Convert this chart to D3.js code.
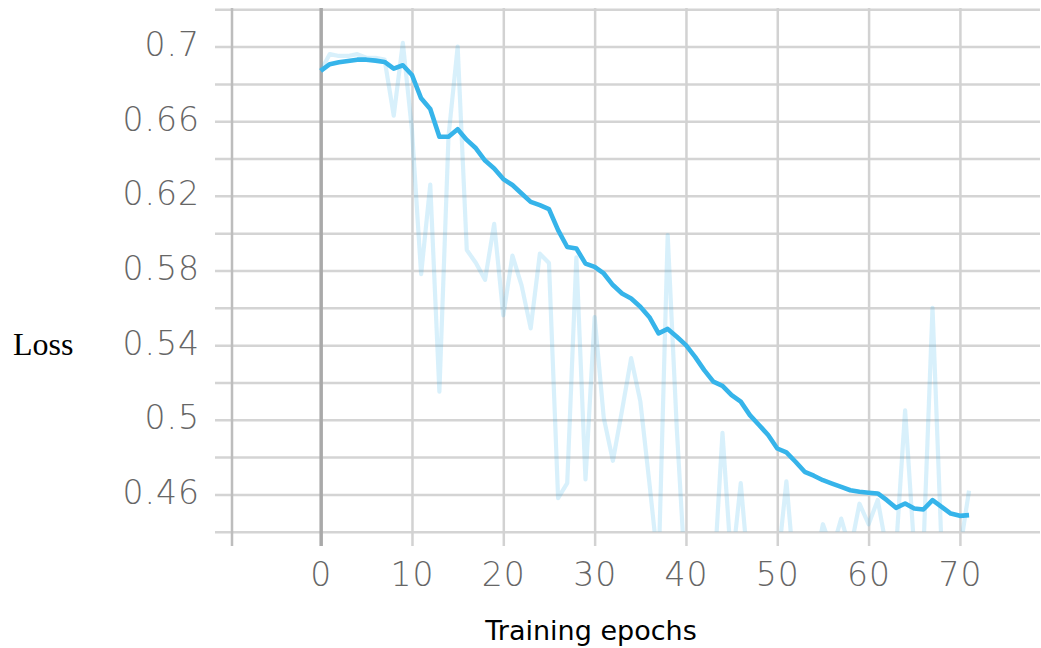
<!DOCTYPE html>
<html>
<head>
<meta charset="utf-8">
<script src="https://cdn.jsdelivr.net/npm/d3@7/dist/d3.min.js"></script>
<style>
  html, body { margin: 0; padding: 0; background: #ffffff; }
  svg { display: block; }
</style>
</head>
<body>
<svg id="chart" width="1041" height="648"></svg>
<script>
// ---- data ----
const epochs = d3.range(0, 72);
// raw (unsmoothed) loss; values below 0.44 fall outside the plot and are clipped
const rawLoss = [
  0.687, 0.696, 0.695, 0.695, 0.696, 0.694, 0.694, 0.693, 0.663, 0.702,
  0.655, 0.578, 0.626, 0.515, 0.652, 0.700, 0.591, 0.584, 0.575, 0.605,
  0.556, 0.588, 0.572, 0.549, 0.589, 0.584, 0.458, 0.466, 0.587, 0.468,
  0.555, 0.501, 0.478, 0.505, 0.533, 0.510, 0.466, 0.420, 0.599, 0.495,
  0.410, 0.400, 0.420, 0.410, 0.493, 0.420, 0.466, 0.410, 0.400, 0.410,
  0.420, 0.467, 0.410, 0.420, 0.420, 0.444, 0.430, 0.447, 0.430, 0.455,
  0.444, 0.457, 0.430, 0.430, 0.505, 0.430, 0.430, 0.560, 0.430, 0.430,
  0.430, 0.462
];
// smoothed loss
const smoothLoss = [
  0.687, 0.6906, 0.6916, 0.6923, 0.6930, 0.6930, 0.6925, 0.6918, 0.6882, 0.6900,
  0.6848, 0.6723, 0.6666, 0.6517, 0.6517, 0.6557, 0.6500, 0.6455, 0.6389, 0.6347,
  0.6290, 0.6258, 0.6213, 0.6168, 0.6150, 0.6129, 0.6016, 0.5926, 0.5918, 0.5837,
  0.5819, 0.5784, 0.5722, 0.5677, 0.5650, 0.5606, 0.5550, 0.5463, 0.5487, 0.5445,
  0.5400, 0.5337, 0.5266, 0.5204, 0.5182, 0.5132, 0.5097, 0.5025, 0.4972, 0.4918,
  0.4846, 0.4825, 0.4775, 0.4721, 0.4700, 0.4676, 0.4658, 0.4640, 0.4622, 0.4614,
  0.4609, 0.4605, 0.4569, 0.4528, 0.4551, 0.4524, 0.4519, 0.4569, 0.4533, 0.4497,
  0.4485, 0.4489
];
const xTicks = [0, 10, 20, 30, 40, 50, 60, 70];
const yLabelTicks = [0.46, 0.50, 0.54, 0.58, 0.62, 0.66, 0.70];
const yLabelText = ["0.46", "0.5", "0.54", "0.58", "0.62", "0.66", "0.7"];
const yGridTicks = [0.44, 0.46, 0.48, 0.50, 0.52, 0.54, 0.56, 0.58, 0.60, 0.62, 0.64, 0.66, 0.68, 0.70, 0.72];
const xTitle = "Training epochs";
const yTitle = "Loss";

// ---- layout ----
const svg = d3.select("#chart");
const pLeft = 232, pRight = 1040, pTop = 9.3, pBottom = 531.7;
const x = d3.scaleLinear().domain([-9.71, 78.77]).range([pLeft, pRight]);
const y = d3.scaleLinear().domain([0.44, 0.72]).range([pBottom, pTop]);

const tickFont = "'DejaVu Sans', sans-serif";

// horizontal grid (extends left past axis as tick marks)
const gy = svg.append("g")
  .attr("transform", `translate(${pRight},0)`)
  .call(d3.axisLeft(y).tickValues(yGridTicks).tickSize(pRight - 215).tickFormat(""));
gy.select(".domain").remove();
gy.selectAll(".tick line").attr("stroke", "#d4d4d4").attr("stroke-width", 2.5);

// vertical grid (extends below plot as tick marks)
const gx = svg.append("g")
  .attr("transform", `translate(0,546)`)
  .call(d3.axisTop(x).tickValues(xTicks).tickSize(546 - 8).tickFormat(""));
gx.select(".domain").remove();
gx.selectAll(".tick line")
  .attr("stroke", d => d === 0 ? "#a9a9a9" : "#d2d2d2")
  .attr("stroke-width", d => d === 0 ? 3.5 : 2.5);

// left axis line
svg.append("line")
  .attr("x1", pLeft).attr("x2", pLeft).attr("y1", 8).attr("y2", 546)
  .attr("stroke", "#bdbdbd").attr("stroke-width", 2.5);

// y tick labels
const ay = svg.append("g")
  .attr("transform", `translate(${pLeft},0)`)
  .call(d3.axisLeft(y).tickValues(yLabelTicks).tickSize(0).tickPadding(32)
    .tickFormat((d, i) => yLabelText[i]));
ay.select(".domain").remove();
ay.selectAll("text")
  .attr("font-family", tickFont).attr("font-size", 33).attr("font-weight", 300)
  .attr("fill", "#666666")
  .attr("dy", "0.27em").style("letter-spacing", "1px");

// x tick labels
const ax = svg.append("g")
  .attr("transform", `translate(0,${pBottom})`)
  .call(d3.axisBottom(x).tickValues(xTicks).tickSize(0).tickPadding(31));
ax.select(".domain").remove();
ax.selectAll("text")
  .attr("font-family", tickFont).attr("font-size", 33).attr("font-weight", 300)
  .attr("fill", "#666666")
  .style("letter-spacing", "1px");

// clip region for data
svg.append("clipPath").attr("id", "plotclip")
  .append("rect").attr("x", pLeft).attr("y", pTop).attr("width", pRight - pLeft).attr("height", pBottom - pTop);

const line = (vals) => d3.line()
  .x((d, i) => x(epochs[i]))
  .y(d => y(d))(vals);

const plot = svg.append("g").attr("clip-path", "url(#plotclip)");
plot.append("path")
  .attr("d", line(rawLoss))
  .attr("fill", "none")
  .attr("stroke", "#3bb6ea").attr("stroke-opacity", 0.2)
  .attr("stroke-width", 4.2).attr("stroke-linejoin", "round");
plot.append("path")
  .attr("d", line(smoothLoss))
  .attr("fill", "none")
  .attr("stroke", "#36b4ea")
  .attr("stroke-width", 4.6).attr("stroke-linejoin", "round");

// axis titles
svg.append("text")
  .attr("x", 591).attr("y", 640)
  .attr("text-anchor", "middle")
  .attr("font-family", "'DejaVu Sans', sans-serif").attr("font-size", 27)
  .attr("fill", "#000")
  .text(xTitle);
svg.append("text")
  .attr("x", 13).attr("y", 355)
  .attr("font-family", "'Liberation Serif', 'Times New Roman', serif").attr("font-size", 32)
  .attr("fill", "#000")
  .text(yTitle);
</script>
</body>
</html>
